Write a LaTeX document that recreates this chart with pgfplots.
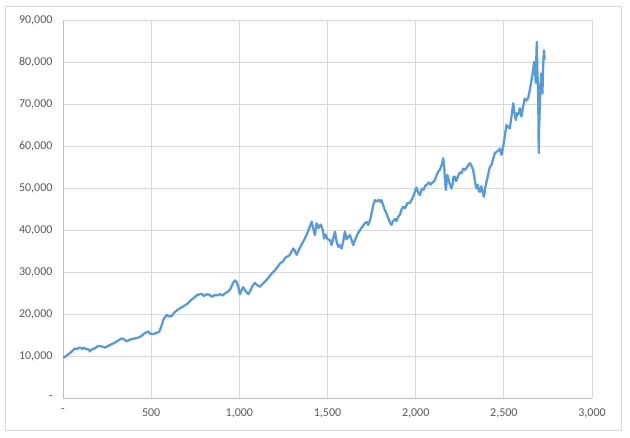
\documentclass[border=0pt]{standalone}
\usepackage{pgfplots}
\pgfplotsset{compat=1.18}
\usepackage{fontspec}
\setmainfont{Carlito}
\definecolor{lineblue}{HTML}{5B9BD5}
\definecolor{gridgray}{HTML}{D9D9D9}
\definecolor{labelgray}{HTML}{595959}
\definecolor{axisgray}{HTML}{BFBFBF}
\begin{document}
\begin{tikzpicture}[x=1pt,y=1pt]
\path[fill=white] (0,0) rectangle (630,437);
\draw[color=gridgray, line width=0.9pt] (5.5,6.5) rectangle (621.5,431);
\begin{axis}[
  at={(63pt,39pt)}, anchor=south west, scale only axis,
  width=529pt, height=378pt,
  xmin=0, xmax=3000, ymin=0, ymax=90000,
  scaled x ticks=false, scaled y ticks=false,
  xtick={0,500,1000,1500,2000,2500,3000},
  xticklabels={-,500,{1,000},{1,500},{2,000},{2,500},{3,000}},
  ytick={0,10000,20000,30000,40000,50000,60000,70000,80000,90000},
  yticklabels={-,{10,000},{20,000},{30,000},{40,000},{50,000},{60,000},{70,000},{80,000},{90,000}},
  grid=major,
  major grid style={gridgray, line width=0.9pt},
  axis x line*=bottom, axis y line*=left,
  axis line style={axisgray, line width=0.9pt, -},
  major tick length=0pt,
  tick label style={font=\fontsize{12}{14}\selectfont, text=labelgray},
  yticklabel style={xshift=-7pt},
  xticklabel style={yshift=-7pt},
  clip=false,
]
\addplot[lineblue, line width=2.3pt, line join=round, no markers] coordinates {
(0,9800) (10,9700) (20,10100) (30,10400) (45,10900) (60,11500) (70,11800) (80,11600)
(90,12000) (100,11900) (110,11700) (120,12000) (130,11600) (140,11700) (153,11100)
(165,11600) (180,11800) (195,12300) (210,12400) (225,12200) (240,12000) (255,12400)
(270,12700) (290,13100) (310,13600) (333,14200) (345,14000) (361,13500) (380,13900)
(400,14100) (420,14300) (435,14500) (446,14800) (460,15300) (475,15700) (484,15800)
(495,15300) (512,15200) (530,15500) (546,15800) (555,16800) (562,17600) (569,18600)
(578,19200) (588,19800) (600,19400) (616,19500) (630,20300) (650,21000) (673,21600)
(690,22000) (710,22600) (725,23300) (739,23700) (760,24500) (786,24800) (800,24300)
(815,24700) (830,24600) (843,24100) (860,24500) (875,24500) (890,24700) (905,24400)
(918,24900) (935,25300) (950,26000) (962,27200) (975,28000) (985,27600) (995,26300)
(1003,24700) (1012,25600) (1022,26400) (1035,25500) (1051,24700) (1065,25800)
(1075,26700) (1088,27400) (1100,26900) (1117,26500) (1135,27300) (1154,28100)
(1170,28900) (1185,29700) (1202,30400) (1215,31100) (1230,32000) (1249,32600)
(1262,33500) (1275,33700) (1287,34100) (1295,34800) (1306,35600) (1315,35000)
(1325,34100) (1340,35500) (1355,36700) (1372,38000) (1385,39200) (1398,40600)
(1410,42000) (1420,40200) (1429,38800) (1438,41600) (1450,40500) (1460,41300)
(1467,40800) (1474,39800) (1480,38000) (1490,38900) (1500,37800) (1514,37600)
(1523,36400) (1533,38000) (1542,39600) (1552,37200) (1561,36000) (1570,36400)
(1580,35600) (1590,37500) (1599,39600) (1608,37800) (1618,38400) (1627,38800)
(1637,37600) (1646,36400) (1658,37800) (1670,39000) (1684,40000) (1698,40800)
(1712,41600) (1722,41900) (1731,41200) (1742,42500) (1750,43900) (1760,46000)
(1769,47100) (1780,46800) (1790,47200) (1800,46700) (1806,47100) (1815,46000)
(1825,44800) (1835,43900) (1845,42800) (1855,41800) (1863,41200) (1873,42200)
(1882,42600) (1891,42100) (1901,43200) (1910,43600) (1920,44900) (1929,45500)
(1940,45200) (1955,46500) (1967,46400) (1980,47400) (1990,48400) (2000,49700)
(2005,50100) (2015,48800) (2024,48300) (2035,49800) (2045,49600) (2055,50600)
(2062,50700) (2075,51300) (2085,50800) (2095,51300) (2105,51600) (2115,52600)
(2128,53900) (2138,54400) (2145,55200) (2150,55800) (2156,57100) (2162,55000)
(2166,52000) (2171,49500) (2176,51500) (2180,53100) (2190,51400) (2197,50600)
(2203,49900) (2210,51000) (2215,52700) (2222,52700) (2230,51600) (2240,52800)
(2250,53700) (2260,53500) (2270,54600) (2280,54300) (2290,54900) (2300,55500)
(2307,55900) (2318,55200) (2326,54300) (2332,52900) (2340,50600) (2345,49900)
(2352,50800) (2358,49400) (2364,49100) (2372,50400) (2380,49000) (2387,47900)
(2395,50200) (2402,51500) (2410,53000) (2420,54900) (2430,55500) (2440,57000)
(2449,58300) (2459,58600) (2468,58900) (2477,59400) (2487,57900) (2495,59500)
(2506,62500) (2515,65000) (2522,64600) (2534,64200) (2545,67500) (2553,70200)
(2560,68000) (2568,66200) (2575,67800) (2582,67500) (2591,69000) (2600,67000)
(2610,69500) (2619,71300) (2628,70800) (2638,71400) (2648,73500) (2657,75700)
(2664,77500) (2672,80000) (2676,79000) (2681,75000) (2684,80500) (2687,84800)
(2690,78000) (2693,75000) (2695,71700) (2697,64000) (2698,58300) (2700,64000)
(2704,69300) (2708,74000) (2713,77300) (2716,75000) (2719,72500) (2722,78000)
(2725,81000) (2728,82800) (2731,80500)
};
\end{axis}
\end{tikzpicture}
\end{document}
